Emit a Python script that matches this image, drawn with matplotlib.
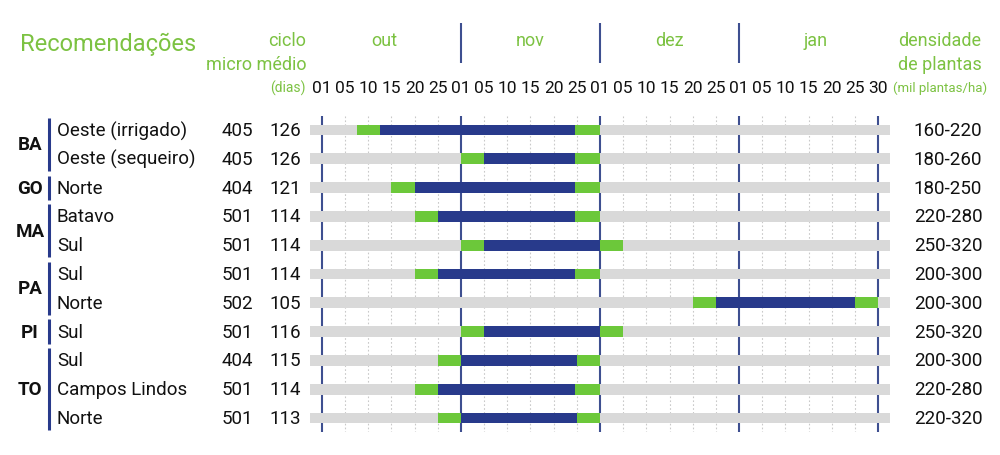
import matplotlib
matplotlib.use("Agg")
import matplotlib.pyplot as plt
import matplotlib.transforms as mtransforms

# ---------------- data ----------------
states = ['BA', 'GO', 'MA', 'PA', 'PI', 'TO']
state_rows = [[0, 1], [2], [3, 4], [5, 6], [7], [8, 9, 10]]
regions = ['Oeste (irrigado)', 'Oeste (sequeiro)', 'Norte', 'Batavo', 'Sul',
           'Sul', 'Norte', 'Sul', 'Sul', 'Campos Lindos', 'Norte']
micro = [405, 405, 404, 501, 501, 501, 502, 501, 404, 501, 501]
ciclo = [126, 126, 121, 114, 114, 114, 105, 116, 115, 114, 113]
densidade = ['160-220', '180-260', '180-250', '220-280', '250-320', '200-300',
             '200-300', '250-320', '200-300', '220-280', '220-320']
# positions in tick units (0 = 01 out, 6 = 01 nov, 12 = 01 dez, 18 = 01 jan, 24 = 30 jan)
green_start = [1.5, 6, 3, 4, 6, 4, 16, 6, 5, 4, 5]
blue_start = [2.5, 7, 4, 5, 7, 5, 17, 7, 6, 5, 6]
blue_end = [10.9, 10.9, 10.9, 10.9, 12, 10.9, 23, 12, 11, 10.9, 11]
green_end = [12, 12, 12, 12, 13, 12, 24, 13, 12, 12, 12]
tick_labels = ['01', '05', '10', '15', '20', '25'] * 4 + ['30']
months = ['out', 'nov', 'dez', 'jan']
month_label_pos = [2.7, 9.0, 15.0, 21.3]
month_lines = [0, 6, 12, 18, 24]
header_lines = [6, 12, 18]

# ---------------- style ----------------
GREEN_TXT = '#7cc242'
GREEN = '#6cc83a'
NAVY = '#283a8b'
LINE = '#3e4f90'
GRAY = '#d9d9d9'
NARROW = ['Roboto', 'DejaVu Sans']
HEAD = ['Roboto', 'DejaVu Sans']

fig = plt.figure(figsize=(10, 4.56), dpi=100)
ax = fig.add_axes([0.3104, 0.0496, 0.5792, 0.6947])
ax.set_xlim(-0.5, 24.5)
ax.set_ylim(10.5, -0.5)
ax.axis('off')

n = len(regions)
bh = 0.38
# grid lines
for t in range(len(tick_labels)):
    if t in month_lines:
        ax.plot([t, t], [-0.5, 10.5], color=LINE, lw=1.5, zorder=1, solid_capstyle='butt')
    else:
        ax.plot([t, t], [-0.5, 10.5], color='#c9c9c9', lw=0.8, ls=(0, (1.5, 2)), zorder=1)

for i in range(n):
    ax.barh(i, 25, left=-0.5, height=bh, color=GRAY, zorder=2)
    ax.barh(i, green_end[i] - green_start[i], left=green_start[i], height=bh, color=GREEN, zorder=3)
    ax.barh(i, blue_end[i] - blue_start[i], left=blue_start[i], height=bh, color=NAVY, zorder=4)

# tick labels
for t, lab in enumerate(tick_labels):
    ax.text(t, -1.47, lab, ha='center', va='center', fontsize=12.5, family=NARROW,
            color='#111111', clip_on=False)
# month names and header separators
for m, p in zip(months, month_label_pos):
    ax.text(p, -3.12, m, ha='center', va='center', fontsize=13, family=HEAD,
            color=GREEN_TXT, clip_on=False)
for h in header_lines:
    ax.plot([h, h], [-3.72, -2.33], color=LINE, lw=1.5, clip_on=False, solid_capstyle='butt')

# left / right columns
tr = mtransforms.blended_transform_factory(fig.transFigure, ax.transData)
for i in range(n):
    ax.text(0.057, i, regions[i], transform=tr, ha='left', va='center', fontsize=13.5,
            family=NARROW, color='#111111')
    ax.text(0.237, i, str(micro[i]), transform=tr, ha='center', va='center', fontsize=13.5,
            family=NARROW, color='#111111')
    ax.text(0.285, i, str(ciclo[i]), transform=tr, ha='center', va='center', fontsize=13.5,
            family=NARROW, color='#111111')
    ax.text(0.948, i, densidade[i], transform=tr, ha='center', va='center',
            fontsize=13.5, family=NARROW, color='#111111')

for s, rows in zip(states, state_rows):
    y0, y1 = min(rows) - 0.42, max(rows) + 0.42
    ax.plot([0.049, 0.049], [y0, y1], transform=tr, color=NAVY, lw=2.2, clip_on=False,
            solid_capstyle='butt')
    ax.text(0.030, (min(rows) + max(rows)) / 2, s, transform=tr, ha='center', va='center',
            fontsize=13.5, fontweight='bold', family=NARROW, color='#111111')

# headers
ax.text(0.020, -3.0, 'Recomendações', transform=tr, ha='left', va='center', fontsize=17,
        family=HEAD, fontweight='normal', color=GREEN_TXT)
ax.text(0.287, -3.12, 'ciclo', transform=tr, ha='center', va='center', fontsize=13,
        family=HEAD, color=GREEN_TXT)
ax.text(0.307, -2.29, 'micro médio', transform=tr, ha='right', va='center', fontsize=13,
        family=HEAD, color=GREEN_TXT)
ax.text(0.306, -1.47, '(dias)', transform=tr, ha='right', va='center', fontsize=10,
        family=HEAD, color=GREEN_TXT)
ax.text(0.940, -3.12, 'densidade', transform=tr, ha='center', va='center', fontsize=13,
        family=HEAD, color=GREEN_TXT)
ax.text(0.940, -2.29, 'de plantas', transform=tr, ha='center', va='center', fontsize=13,
        family=HEAD, color=GREEN_TXT)
ax.text(0.940, -1.47, '(mil plantas/ha)', transform=tr, ha='center', va='center', fontsize=9.5,
        family=HEAD, color=GREEN_TXT)

fig.savefig('out.png', dpi=100)
